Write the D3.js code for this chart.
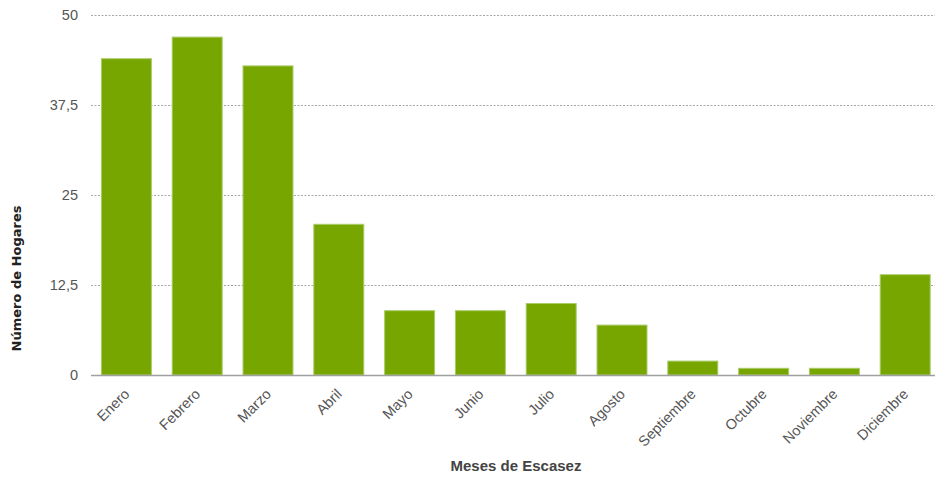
<!DOCTYPE html>
<html>
<head>
<meta charset="utf-8">
<script src="https://cdn.jsdelivr.net/npm/d3@7"></script>
<style>
  body { margin: 0; background: #fff; }
  svg { font-family: "Liberation Sans", Arial, sans-serif; }
</style>
</head>
<body>
<div id="chart"></div>
<script>
const months = ['Enero', 'Febrero', 'Marzo', 'Abril', 'Mayo', 'Junio', 'Julio', 'Agosto', 'Septiembre', 'Octubre', 'Noviembre', 'Diciembre']
const households = [44, 47, 43, 21, 9, 9, 10, 7, 2, 1, 1, 14]
const yTicks = [0, 12.5, 25, 37.5, 50]
const yTickLabels = ['0', '12,5', '25', '37,5', '50']

const width = 935
const height = 477
const plotLeft = 91
const plotTop = 15
const plotBottom = 375

const svg = d3.select('#chart')
  .append('svg')
  .attr('width', width)
  .attr('height', height)

const x = d3.scaleBand()
  .domain(months)
  .range([plotLeft, plotLeft + 70.8 * 12])
  .paddingInner(0.28)
  .paddingOuter(0.14)

const y = d3.scaleLinear()
  .domain([0, 50])
  .range([plotBottom, plotTop])

// grid lines
svg.append('g')
  .selectAll('line')
  .data(yTicks.filter(d => d > 0))
  .enter()
  .append('line')
    .attr('x1', plotLeft)
    .attr('x2', width)
    .attr('y1', d => Math.round(y(d)) + 0.5)
    .attr('y2', d => Math.round(y(d)) + 0.5)
    .attr('stroke', '#a8a8a8')
    .attr('stroke-dasharray', '2,1.5')

// y tick labels
svg.append('g')
  .selectAll('text')
  .data(yTicks)
  .enter()
  .append('text')
    .attr('x', 78)
    .attr('y', d => y(d))
    .attr('dy', '0.35em')
    .attr('text-anchor', 'end')
    .attr('font-size', 14.5)
    .attr('fill', '#555')
    .text((d, i) => yTickLabels[i])

// bars
svg.append('g')
  .selectAll('rect')
  .data(households)
  .enter()
  .append('rect')
    .attr('x', (d, i) => x(months[i]) + 0.5)
    .attr('y', d => y(d) + 0.5)
    .attr('width', x.bandwidth() - 1)
    .attr('height', d => y(0) - y(d) - 0.5)
    .attr('fill', '#78a600')
    .attr('stroke', '#a9cc6a')
    .attr('stroke-width', 1)

// baseline
svg.append('line')
  .attr('x1', plotLeft)
  .attr('x2', width)
  .attr('y1', plotBottom + 0.5)
  .attr('y2', plotBottom + 0.5)
  .attr('stroke', '#a0a0a0')
  .attr('stroke-width', 1.5)

// x labels
svg.append('g')
  .selectAll('text')
  .data(months)
  .enter()
  .append('text')
    .attr('transform', d => 'translate(' + (x(d) + x.bandwidth() / 2 + 4) + ',' + (plotBottom + 20) + ') rotate(-45)')
    .attr('text-anchor', 'end')
    .attr('font-size', 14.5)
    .attr('fill', '#555')
    .text(d => d)

// axis titles
svg.append('text')
  .attr('x', (plotLeft + width) / 2 + 3)
  .attr('y', 471)
  .attr('text-anchor', 'middle')
  .attr('font-size', 15)
  .attr('font-weight', 'bold')
  .attr('fill', '#444')
  .text('Meses de Escasez')

svg.append('text')
  .attr('transform', 'translate(21,278.5) rotate(-90)')
  .attr('text-anchor', 'middle')
  .attr('font-family', '"DejaVu Sans", sans-serif')
  .attr('font-size', 13)
  .attr('font-weight', 'bold')
  .attr('fill', '#222')
  .text('Número de Hogares')
</script>
</body>
</html>
